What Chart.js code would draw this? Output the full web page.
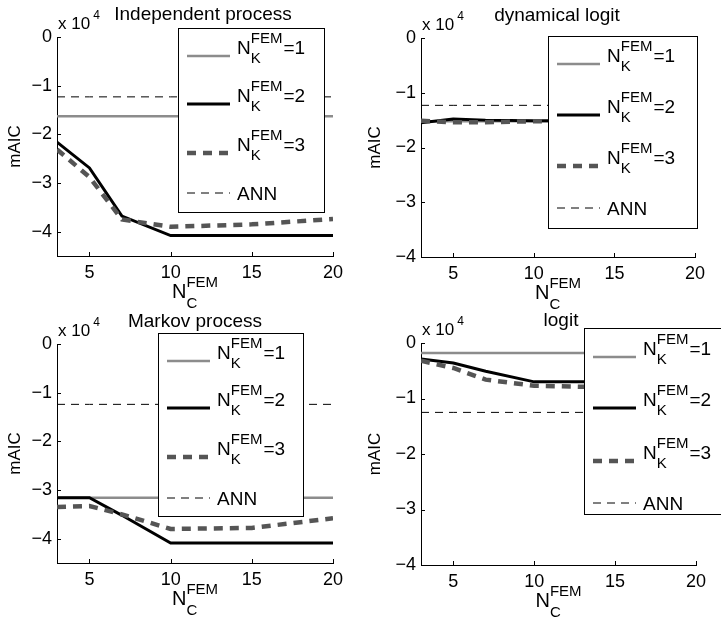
<!DOCTYPE html>
<html><head><meta charset="utf-8">
<script src="https://cdn.jsdelivr.net/npm/chart.js@4.4.1/dist/chart.umd.min.js"></script>
<style>
html,body{margin:0;padding:0;background:#fff;width:721px;height:621px;overflow:hidden;}
canvas{position:absolute;}
</style></head><body>
<canvas id="c1" width="360" height="310" style="left:0;top:0"></canvas>
<canvas id="c2" width="361" height="310" style="left:360px;top:0"></canvas>
<canvas id="c3" width="360" height="321" style="left:0;top:300px"></canvas>
<canvas id="c4" width="361" height="321" style="left:360px;top:300px"></canvas>
<script>
// ---- data (mAIC in units of 10^4) ----
const xValues = [3, 5, 7, 10, 15, 20];
const xTicks = [5, 10, 15, 20];
const yTicks = [-4, -3, -2, -1, 0];
const seriesLabels = ['N_K^FEM=1', 'N_K^FEM=2', 'N_K^FEM=3', 'ANN'];
const panelTitles = ['Independent process', 'dynamical logit', 'Markov process', 'logit'];

const indepK1  = [-1.63, -1.63, -1.63, -1.63, -1.63, -1.63];
const indepK2  = [-2.16, -2.69, -3.68, -4.08, -4.08, -4.08];
const indepK3  = [-2.31, -2.88, -3.75, -3.90, -3.85, -3.74];
const indepANN = [-1.23, -1.23, -1.23, -1.23, -1.23, -1.23];

const dynK1  = [-1.52, -1.52, -1.52, -1.52, -1.52, -1.52];
const dynK2  = [-1.55, -1.48, -1.50, -1.51, -1.51, -1.51];
const dynK3  = [-1.51, -1.54, -1.54, -1.52, -1.52, -1.52];
const dynANN = [-1.23, -1.23, -1.23, -1.23, -1.23, -1.23];

const markovK1  = [-3.16, -3.16, -3.16, -3.16, -3.16, -3.16];
const markovK2  = [-3.16, -3.16, -3.52, -4.09, -4.09, -4.09];
const markovK3  = [-3.35, -3.33, -3.50, -3.80, -3.78, -3.58];
const markovANN = [-1.24, -1.24, -1.24, -1.24, -1.24, -1.24];

const logitK1  = [-0.18, -0.18, -0.18, -0.18, -0.18, -0.18];
const logitK2  = [-0.29, -0.36, -0.51, -0.70, -0.70, -0.70];
const logitK3  = [-0.32, -0.45, -0.66, -0.77, -0.80, -0.80];
const logitANN = [-1.25, -1.25, -1.25, -1.25, -1.25, -1.25];

// ---- styles & layout ----
const FONT = '"Liberation Sans", Arial, Helvetica, sans-serif';
const lineStyles = [
  {color: '#8c8c8c', width: 2.5, dash: [], order: 4},
  {color: '#000000', width: 3, dash: [], order: 3},
  {color: '#555555', width: 4.5, dash: [9, 7], order: 2},
  {color: '#000000', width: 1, dash: [8, 6], order: 1}
];

const panels = [
  {id: 'c1', offX: 0, offY: 0, w: 360, h: 310, title: panelTitles[0], titleX: 203, yMin: -4.5,
   series: [indepK1, indepK2, indepK3, indepANN],
   area: {l: 57, r: 333, t: 37, b: 256},
   legend: {x: 178, y: 28, w: 146, h: 184, rows: [28, 76, 125, 165]}},
  {id: 'c2', offX: 360, offY: 0, w: 361, h: 310, title: panelTitles[1], titleX: 557, yMin: -4,
   series: [dynK1, dynK2, dynK3, dynANN],
   area: {l: 421, r: 695, t: 38, b: 257},
   legend: {x: 548, y: 36, w: 149, h: 192, rows: [28, 79, 130, 172]}},
  {id: 'c3', offX: 0, offY: 300, w: 360, h: 321, title: panelTitles[2], titleX: 195, yMin: -4.5,
   series: [markovK1, markovK2, markovK3, markovANN],
   area: {l: 57, r: 333, t: 344, b: 563},
   legend: {x: 158, y: 333, w: 145, h: 183, rows: [28, 75, 124, 165]}},
  {id: 'c4', offX: 360, offY: 300, w: 361, h: 321, title: panelTitles[3], titleX: 561, yMin: -4,
   series: [logitK1, logitK2, logitK3, logitANN],
   area: {l: 421, r: 696, t: 343, b: 565},
   legend: {x: 584, y: 328, w: 140, h: 186, rows: [29, 80, 133, 175]}}
];

function drawSubSup(ctx, x, baseline, main, sub, sup, mainSize, smallSize, supDy, subDy) {
  ctx.font = mainSize + 'px ' + FONT;
  ctx.fillText(main, x, baseline);
  const wN = ctx.measureText(main).width;
  ctx.font = smallSize + 'px ' + FONT;
  ctx.fillText(sup, x + wN, baseline - supDy);
  ctx.fillText(sub, x + wN, baseline + subDy);
  return wN + Math.max(ctx.measureText(sup).width, ctx.measureText(sub).width);
}

function drawLegendText(ctx, label, x, ly) {
  ctx.fillStyle = '#000'; ctx.textAlign = 'left'; ctx.textBaseline = 'alphabetic';
  const m = label.match(/^N_(\w)\^(\w+)(.*)$/);
  if (!m) { ctx.font = '19px ' + FONT; ctx.fillText(label, x, ly + 7); return; }
  const w = drawSubSup(ctx, x, ly - 2, 'N', m[1], m[2], 19, 15, 11, 9);
  ctx.font = '19px ' + FONT;
  ctx.fillText(m[3], x + w + 1, ly - 2);
}

const decor = {
  id: 'decor',
  afterDatasetsDraw(chart, args, o) {
    const L = o.legend, ctx = chart.ctx, x = L.x - o.offX, y = L.y - o.offY;
    ctx.save();
    ctx.fillStyle = '#fff'; ctx.fillRect(x, y, L.w, L.h);
    ctx.strokeStyle = '#000'; ctx.lineWidth = 1; ctx.setLineDash([]);
    ctx.strokeRect(x + 0.5, y + 0.5, L.w, L.h);
    chart.data.datasets.forEach((ds, i) => {
      const ly = y + L.rows[i];
      ctx.save();
      ctx.strokeStyle = ds.borderColor; ctx.lineWidth = ds.borderWidth;
      ctx.setLineDash(ds.borderDash || []);
      ctx.beginPath(); ctx.moveTo(x + 9, ly); ctx.lineTo(x + 52, ly); ctx.stroke();
      ctx.restore();
      drawLegendText(ctx, ds.label, x + 59, ly);
    });
    ctx.restore();
  },
  afterDraw(chart, args, o) {
    const ctx = chart.ctx, a = chart.chartArea, xs = chart.scales.x, ys = chart.scales.y;
    ctx.save();
    ctx.strokeStyle = '#000'; ctx.lineWidth = 1; ctx.setLineDash([]);
    xs.ticks.forEach(t => {
      const px = Math.round(xs.getPixelForValue(t.value)) + 0.5;
      ctx.beginPath(); ctx.moveTo(px, a.bottom); ctx.lineTo(px, a.bottom - 4); ctx.stroke();
    });
    ys.ticks.forEach(t => {
      const py = Math.round(ys.getPixelForValue(t.value)) + 0.5;
      ctx.beginPath(); ctx.moveTo(a.left, py); ctx.lineTo(a.left + 4, py); ctx.stroke();
    });
    ctx.fillStyle = '#000'; ctx.textBaseline = 'alphabetic';
    ctx.font = '19px ' + FONT; ctx.textAlign = 'center';
    ctx.fillText(o.title, o.titleX - o.offX, a.top - 17);
    ctx.textAlign = 'left';
    ctx.font = '17px ' + FONT;
    ctx.fillText('x 10', a.left + 1, a.top - 8);
    const w = ctx.measureText('x 10').width;
    ctx.font = '12px ' + FONT;
    ctx.fillText('4', a.left + 1 + w + 3, a.top - 18);
    // x-axis label N_C^FEM
    ctx.font = '20px ' + FONT;
    const wN = ctx.measureText('N').width;
    ctx.font = '15px ' + FONT;
    const wS = ctx.measureText('FEM').width;
    const cx = (a.left + a.right) / 2;
    drawSubSup(ctx, cx - (wN + wS) / 2, a.bottom + 42, 'N', 'C', 'FEM', 20, 15, 11, 10);
    ctx.restore();
  }
};

function fmtY(v) { return v === 0 ? '0' : '\u2212' + Math.abs(v); }

panels.forEach(p => {
  const datasets = p.series.map((vals, i) => ({
    label: seriesLabels[i],
    data: xValues.map((x, j) => ({x: x, y: vals[j]})),
    borderColor: lineStyles[i].color,
    borderWidth: lineStyles[i].width,
    borderDash: lineStyles[i].dash,
    order: lineStyles[i].order,
    pointRadius: 0, fill: false, tension: 0,
    borderCapStyle: 'butt', borderJoinStyle: 'miter'
  }));
  const padTop = p.area.t - p.offY;
  const padRight = p.w - (p.area.r - p.offX);
  const yWidth = p.area.l - p.offX;
  const xHeight = p.h - (p.area.b - p.offY);
  new Chart(document.getElementById(p.id), {
    type: 'line',
    data: {datasets: datasets},
    plugins: [decor],
    options: {
      responsive: false, animation: false, devicePixelRatio: 1,
      layout: {autoPadding: false, padding: {left: 0, top: padTop, right: padRight, bottom: 0}},
      plugins: {
        legend: {display: false}, tooltip: {enabled: false}, title: {display: false},
        decor: {title: p.title, titleX: p.titleX, offX: p.offX, offY: p.offY, legend: p.legend}
      },
      scales: {
        x: {
          type: 'linear', min: 3, max: 20,
          afterBuildTicks: s => { s.ticks = xTicks.map(v => ({value: v})); },
          afterFit: s => { s.height = xHeight; s.paddingLeft = 0; s.paddingRight = 0; },
          grid: {display: false, drawTicks: false},
          border: {display: true, color: '#000', width: 1},
          ticks: {padding: 6, color: '#000', font: {family: FONT, size: 18}, maxRotation: 0, autoSkip: false}
        },
        y: {
          type: 'linear', min: p.yMin, max: 0,
          afterBuildTicks: s => { s.ticks = yTicks.map(v => ({value: v})); },
          afterFit: s => { s.width = yWidth; s.paddingTop = 0; s.paddingBottom = 0; },
          grid: {display: false, drawTicks: false},
          border: {display: true, color: '#000', width: 1},
          title: {display: true, text: 'mAIC', color: '#000', font: {family: FONT, size: 17}, padding: {top: 5, bottom: 0}},
          ticks: {padding: 5, color: '#000', font: {family: FONT, size: 18}, callback: v => fmtY(v)}
        }
      }
    }
  });
});
</script>
</body></html>
